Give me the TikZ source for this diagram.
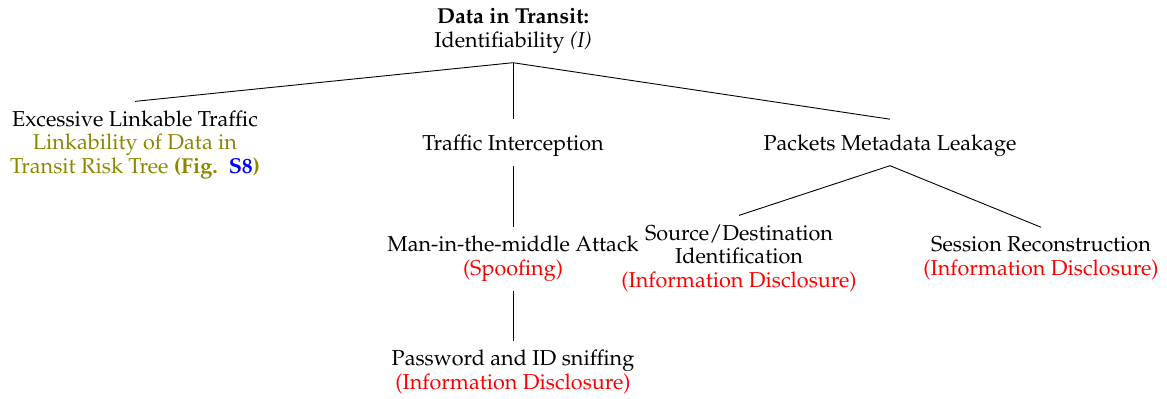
\documentclass[tikz,border=0pt]{standalone}
\usepackage[T1]{fontenc}
\usepackage{mathpazo}
\begin{document}
\begin{tikzpicture}[x=0.5pt,y=-0.5pt,
  tn/.style={align=center, inner xsep=0pt, inner ysep=4.6pt,
    font=\fontsize{10.8}{11.6}\selectfont, anchor=base},
  tall/.style={text height=10.6pt},
  conn/.style={draw=black, line width=0.45pt}]
\useasboundingbox (0,0) rectangle (1167,398);
\node[tn] (root) at (513,47) {\textbf{Data in Transit:}\\Identifiability \textit{(I)}};
\node[tn] (exc) at (135,173) {Excessive Linkable Traffic\\
  \textcolor{olive}{Linkability of Data in}\\
  \textcolor{olive}{Transit Risk Tree \textbf{(Fig.\hspace{5.5pt}\textcolor{blue}{S8})}}};
\node[tn,tall] (tin) at (513,150) {Traffic Interception};
\node[tn,tall] (pml) at (890,150) {Packets Metadata Leakage};
\node[tn] (mitm) at (513,275) {Man-in-the-middle Attack\\\textcolor{red}{(Spoofing)}};
\node[tn] (pwd) at (513,389) {Password and ID sniffing\\\textcolor{red}{(Information Disclosure)}};
\node[tn] (sdi) at (739,287) {Source/Destination\\Identification\\\textcolor{red}{(Information Disclosure)}};
\node[tn] (ses) at (1041,275) {Session Reconstruction\\\textcolor{red}{(Information Disclosure)}};
\draw[conn] (root.south) -- (exc.north);
\draw[conn] (root.south) -- (tin.north);
\draw[conn] (root.south) -- (pml.north);
\draw[conn] (tin.south) -- (mitm.north);
\draw[conn] (mitm.south) -- (pwd.north);
\draw[conn] (pml.south) -- (sdi.north);
\draw[conn] (pml.south) -- (ses.north);
\end{tikzpicture}
\end{document}
